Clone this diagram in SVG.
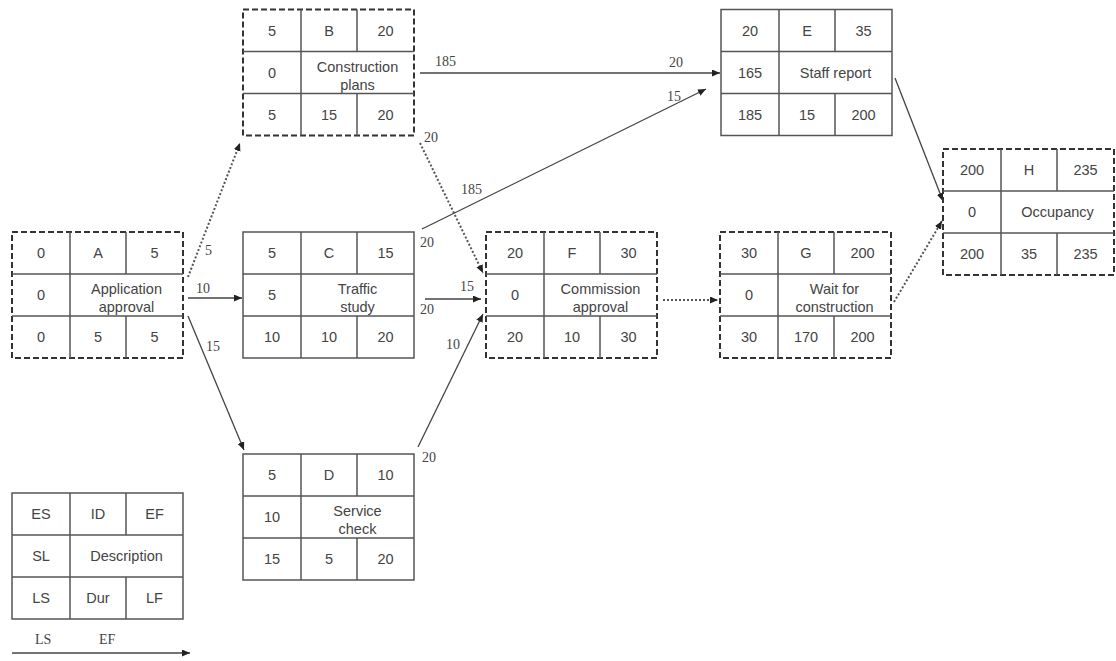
<svg xmlns="http://www.w3.org/2000/svg" width="1116" height="661" viewBox="0 0 1116 661">
<style>
.box{fill:#fff;stroke:#555;stroke-width:1.5}
.dash{fill:#fff;stroke:#333;stroke-width:2;stroke-dasharray:6 3}
.ln{stroke:#555;stroke-width:1.5;fill:none}
.t{font-family:"Liberation Sans",Arial,sans-serif;font-size:14.5px;fill:#444;text-anchor:middle}
.lb{font-family:"Liberation Serif","Times New Roman",serif;font-size:14px;fill:#444}
.c{stroke:#444;stroke-width:1.3;fill:none}
.d{stroke:#555;stroke-width:2;stroke-dasharray:2 2;fill:none}
</style>
<defs>
<marker id="ah" markerWidth="9" markerHeight="8" refX="8" refY="3.5" orient="auto" markerUnits="userSpaceOnUse">
<path d="M0,0 L8,3.5 L0,7 z" fill="#222"/>
</marker>
<g id="grid">
<line class="ln" x1="0" y1="42" x2="171" y2="42"/>
<line class="ln" x1="0" y1="84" x2="171" y2="84"/>
<line class="ln" x1="58" y1="0" x2="58" y2="126"/>
<line class="ln" x1="114" y1="0" x2="114" y2="42"/>
<line class="ln" x1="114" y1="84" x2="114" y2="126"/>
</g>
</defs>
<rect width="1116" height="661" fill="#fff"/>

<g id="connectors">
<line class="d" x1="188" y1="277" x2="240" y2="143" marker-end="url(#ah)"/>
<line class="c" x1="188" y1="298" x2="242" y2="298" marker-end="url(#ah)"/>
<line class="c" x1="188" y1="316" x2="244" y2="450" marker-end="url(#ah)"/>
<line class="c" x1="420" y1="73" x2="720" y2="73" marker-end="url(#ah)"/>
<line class="d" x1="420" y1="143" x2="483" y2="273" marker-end="url(#ah)"/>
<line class="c" x1="422" y1="229" x2="706" y2="89" marker-end="url(#ah)"/>
<line class="c" x1="425" y1="299" x2="481" y2="299" marker-end="url(#ah)"/>
<line class="c" x1="418" y1="447" x2="483" y2="314" marker-end="url(#ah)"/>
<line class="d" x1="663" y1="300" x2="718" y2="300" marker-end="url(#ah)"/>
<line class="d" x1="894" y1="302" x2="942" y2="221" marker-end="url(#ah)"/>
<line class="c" x1="895" y1="78" x2="943" y2="201" marker-end="url(#ah)"/>
<line class="c" x1="12" y1="653" x2="190" y2="653" marker-end="url(#ah)"/>
<text class="lb" x="205" y="255">5</text>
<text class="lb" x="196" y="293">10</text>
<text class="lb" x="206" y="351">15</text>
<text class="lb" x="435" y="66">185</text>
<text class="lb" x="669" y="67">20</text>
<text class="lb" x="424" y="142">20</text>
<text class="lb" x="461" y="194">185</text>
<text class="lb" x="667" y="101">15</text>
<text class="lb" x="420" y="247">20</text>
<text class="lb" x="460" y="291">15</text>
<text class="lb" x="420" y="314">20</text>
<text class="lb" x="446" y="349">10</text>
<text class="lb" x="422" y="462">20</text>
<text class="lb" x="35" y="644">LS</text>
<text class="lb" x="99" y="644">EF</text>
</g>

<g id="nodeA" transform="translate(12,232)">
<rect class="dash" x="0" y="0" width="171" height="126"/><use href="#grid"/>
<text class="t" x="29" y="26">0</text><text class="t" x="86" y="26">A</text><text class="t" x="142.5" y="26">5</text>
<text class="t" x="29" y="68">0</text><text class="t" x="114.5" y="62">Application</text><text class="t" x="114.5" y="80">approval</text>
<text class="t" x="29" y="110">0</text><text class="t" x="86" y="110">5</text><text class="t" x="142.5" y="110">5</text>
</g>

<g id="nodeB" transform="translate(243,9.5)">
<rect class="dash" x="0" y="0" width="171" height="126"/><use href="#grid"/>
<text class="t" x="29" y="26">5</text><text class="t" x="86" y="26">B</text><text class="t" x="142.5" y="26">20</text>
<text class="t" x="29" y="68">0</text><text class="t" x="114.5" y="62">Construction</text><text class="t" x="114.5" y="80">plans</text>
<text class="t" x="29" y="110">5</text><text class="t" x="86" y="110">15</text><text class="t" x="142.5" y="110">20</text>
</g>

<g id="nodeC" transform="translate(243,232)">
<rect class="box" x="0" y="0" width="171" height="126"/><use href="#grid"/>
<text class="t" x="29" y="26">5</text><text class="t" x="86" y="26">C</text><text class="t" x="142.5" y="26">15</text>
<text class="t" x="29" y="68">5</text><text class="t" x="114.5" y="62">Traffic</text><text class="t" x="114.5" y="80">study</text>
<text class="t" x="29" y="110">10</text><text class="t" x="86" y="110">10</text><text class="t" x="142.5" y="110">20</text>
</g>

<g id="nodeD" transform="translate(243,454)">
<rect class="box" x="0" y="0" width="171" height="126"/><use href="#grid"/>
<text class="t" x="29" y="26">5</text><text class="t" x="86" y="26">D</text><text class="t" x="142.5" y="26">10</text>
<text class="t" x="29" y="68">10</text><text class="t" x="114.5" y="62">Service</text><text class="t" x="114.5" y="80">check</text>
<text class="t" x="29" y="110">15</text><text class="t" x="86" y="110">5</text><text class="t" x="142.5" y="110">20</text>
</g>

<g id="nodeE" transform="translate(721,9.5)">
<rect class="box" x="0" y="0" width="171" height="126"/><use href="#grid"/>
<text class="t" x="29" y="26">20</text><text class="t" x="86" y="26">E</text><text class="t" x="142.5" y="26">35</text>
<text class="t" x="29" y="68">165</text><text class="t" x="114.5" y="68">Staff report</text>
<text class="t" x="29" y="110">185</text><text class="t" x="86" y="110">15</text><text class="t" x="142.5" y="110">200</text>
</g>

<g id="nodeF" transform="translate(486,232)">
<rect class="dash" x="0" y="0" width="171" height="126"/><use href="#grid"/>
<text class="t" x="29" y="26">20</text><text class="t" x="86" y="26">F</text><text class="t" x="142.5" y="26">30</text>
<text class="t" x="29" y="68">0</text><text class="t" x="114.5" y="62">Commission</text><text class="t" x="114.5" y="80">approval</text>
<text class="t" x="29" y="110">20</text><text class="t" x="86" y="110">10</text><text class="t" x="142.5" y="110">30</text>
</g>

<g id="nodeG" transform="translate(720,232)">
<rect class="dash" x="0" y="0" width="171" height="126"/><use href="#grid"/>
<text class="t" x="29" y="26">30</text><text class="t" x="86" y="26">G</text><text class="t" x="142.5" y="26">200</text>
<text class="t" x="29" y="68">0</text><text class="t" x="114.5" y="62">Wait for</text><text class="t" x="114.5" y="80">construction</text>
<text class="t" x="29" y="110">30</text><text class="t" x="86" y="110">170</text><text class="t" x="142.5" y="110">200</text>
</g>

<g id="nodeH" transform="translate(943,149)">
<rect class="dash" x="0" y="0" width="171" height="126"/><use href="#grid"/>
<text class="t" x="29" y="26">200</text><text class="t" x="86" y="26">H</text><text class="t" x="142.5" y="26">235</text>
<text class="t" x="29" y="68">0</text><text class="t" x="114.5" y="68">Occupancy</text>
<text class="t" x="29" y="110">200</text><text class="t" x="86" y="110">35</text><text class="t" x="142.5" y="110">235</text>
</g>

<g id="legend" transform="translate(12,493)">
<rect class="box" x="0" y="0" width="171" height="126"/><use href="#grid"/>
<text class="t" x="29" y="26">ES</text><text class="t" x="86" y="26">ID</text><text class="t" x="142.5" y="26">EF</text>
<text class="t" x="29" y="68">SL</text><text class="t" x="114.5" y="68">Description</text>
<text class="t" x="29" y="110">LS</text><text class="t" x="86" y="110">Dur</text><text class="t" x="142.5" y="110">LF</text>
</g>
</svg>
